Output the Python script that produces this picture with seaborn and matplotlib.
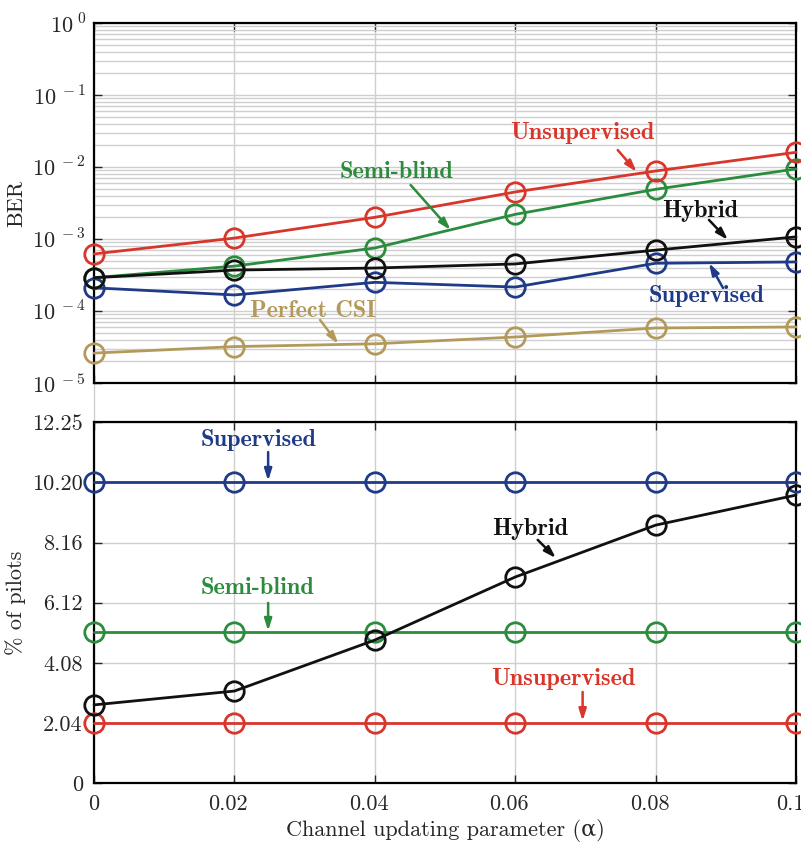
import matplotlib

matplotlib.use("Agg")
import matplotlib.pyplot as plt  # noqa: E402
import matplotlib.transforms as mtransforms  # noqa: E402
import numpy as np  # noqa: E402
import pandas as pd  # noqa: E402
import seaborn as sns  # noqa: E402
from matplotlib.ticker import FixedLocator, NullFormatter, LogLocator  # noqa: E402

# ---- data ------------------------------------------------------------------
alpha = [0, 0.02, 0.04, 0.06, 0.08, 0.1]

ber_unsupervised = [6.2e-4, 1.03e-3, 2.0e-3, 4.5e-3, 8.8e-3, 1.6e-2]
ber_semiblind = [2.9e-4, 4.2e-4, 7.5e-4, 2.2e-3, 4.9e-3, 9.4e-3]
ber_hybrid = [2.9e-4, 3.7e-4, 3.95e-4, 4.5e-4, 7.0e-4, 1.07e-3]
ber_supervised = [2.1e-4, 1.67e-4, 2.5e-4, 2.15e-4, 4.6e-4, 4.8e-4]
ber_perfect = [2.6e-5, 3.2e-5, 3.5e-5, 4.35e-5, 5.8e-5, 6.0e-5]

pil_supervised = [10.20, 10.20, 10.20, 10.20, 10.20, 10.20]
pil_semiblind = [5.12, 5.12, 5.12, 5.12, 5.12, 5.12]
pil_unsupervised = [2.04, 2.04, 2.04, 2.04, 2.04, 2.04]
pil_hybrid = [2.65, 3.12, 4.85, 6.99, 8.75, 9.77]

pil_ticks = [0, 2.04, 4.08, 6.12, 8.16, 10.20, 12.25]
pil_ticklabels = ["0", "2.04", "4.08", "6.12", "8.16", "10.20", "12.25"]
x_ticklabels = ["0", "0.02", "0.04", "0.06", "0.08", "0.1"]

RED = "#d9362b"
GREEN = "#2b8c3d"
BLUE = "#1f3a88"
BLACK = "#111111"
GOLD = "#b39a5b"

sns.set_style("ticks")
plt.rcParams["font.family"] = ["cmr10", "DejaVu Serif"]
plt.rcParams["mathtext.fontset"] = "cm"
plt.rcParams["axes.formatter.use_mathtext"] = True
plt.rcParams["axes.unicode_minus"] = False

FS = 16      # ticks and axis labels
FS_LAB = 17.5  # bold curve labels
GRID = "#cfcfcf"

fig = plt.figure(figsize=(8.01, 8.43), dpi=100)
ax1 = fig.add_axes([0.1174, 0.5457, 0.8764, 0.4270])
ax2 = fig.add_axes([0.1174, 0.0712, 0.8764, 0.4282])


def draw(ax, y, color):
    d = pd.DataFrame({"alpha": alpha, "value": y})
    sns.lineplot(
        data=d, x="alpha", y="value", ax=ax, color=color, lw=2.0,
        marker="o", markersize=14, markerfacecolor="none",
        markeredgecolor=color, markeredgewidth=2.0, clip_on=False, zorder=4,
    )


# ---- top: BER ---------------------------------------------------------------
for y, c in [(ber_perfect, GOLD), (ber_supervised, BLUE), (ber_semiblind, GREEN),
             (ber_unsupervised, RED), (ber_hybrid, BLACK)]:
    draw(ax1, y, c)

ax1.set_yscale("log")
ax1.set_ylim(1e-5, 1)
ax1.set_xlim(0, 0.1)
ax1.yaxis.set_major_locator(FixedLocator([1e-5, 1e-4, 1e-3, 1e-2, 1e-1, 1]))
ax1.yaxis.set_minor_locator(LogLocator(base=10, subs=np.arange(2, 10), numticks=20))
ax1.yaxis.set_minor_formatter(NullFormatter())
ax1.set_yticklabels([r"$10^{\;-5}$", r"$10^{\;-4}$", r"$10^{\;-3}$",
                     r"$10^{\;-2}$", r"$10^{\;-1}$", r"$10^{\;0}$"], fontsize=FS)
ax1.set_xticks(alpha)
ax1.set_xticklabels([])
ax1.set_ylabel("BER", fontsize=FS)
ax1.set_xlabel("")
ax1.grid(True, which="major", color=GRID, lw=1.0)
ax1.grid(True, which="minor", axis="y", color=GRID, lw=1.0)
ax1.tick_params(which="major", direction="in", length=6, width=1, top=True, right=True,
                pad=6)
ax1.tick_params(which="minor", length=0)
# the vertical grid lines run on into the gap between the two panels
for xv in alpha[:-1]:
    ax1.axvline(xv, ymin=-0.11, ymax=0, color=GRID, lw=1.0, clip_on=False, zorder=0)


def label(ax, text, xy, tail, head, color):
    ax.text(xy[0], xy[1], text, color=color, fontsize=FS_LAB, family="cmb10",
            ha="center", va="center", zorder=5)
    ax.annotate("", xy=head, xytext=tail, zorder=5,
                arrowprops=dict(arrowstyle="-|>,head_length=0.7,head_width=0.22",
                                color=color, lw=1.8, shrinkA=0, shrinkB=0))


label(ax1, "Unsupervised", (0.0696, 0.0297), (0.0746, 0.0172), (0.0773, 0.00853), RED)
label(ax1, "Semi-blind", (0.0431, 0.00853), (0.0451, 0.00562), (0.0508, 0.00133), GREEN)
label(ax1, "Hybrid", (0.0864, 0.00245), (0.0876, 0.00184), (0.0903, 0.00097), BLACK)
label(ax1, "Supervised", (0.0872, 1.62e-4), (0.0896, 2.09e-4), (0.0876, 4.64e-4), BLUE)
label(ax1, "Perfect CSI", (0.0312, 1.0e-4), (0.0322, 7.5e-5), (0.0348, 3.48e-5), GOLD)

# ---- bottom: % of pilots -----------------------------------------------------
for y, c in [(pil_supervised, BLUE), (pil_semiblind, GREEN),
             (pil_unsupervised, RED), (pil_hybrid, BLACK)]:
    draw(ax2, y, c)

ax2.set_ylim(0, 12.25)
ax2.set_xlim(0, 0.1)
ax2.set_yticks(pil_ticks)
ax2.set_yticklabels(pil_ticklabels, fontsize=FS)
ax2.set_xticks(alpha)
ax2.set_xticklabels(x_ticklabels, fontsize=FS)
ax2.set_ylabel("% of pilots", fontsize=FS)
ax2.set_xlabel("Channel updating parameter (α)", fontsize=FS, labelpad=4)
ax2.grid(True, color=GRID, lw=1.0)
ax2.tick_params(direction="in", length=6, width=1, top=True, right=True, pad=8)

# decimal x labels sit a few pixels left of their ticks in the original
shift = mtransforms.ScaledTranslation(-6 / 100, 0, fig.dpi_scale_trans)
for t in ax2.get_xticklabels()[1:]:
    t.set_transform(t.get_transform() + shift)

label(ax2, "Supervised", (0.0234, 11.64), (0.0248, 11.23), (0.0248, 10.25), BLUE)
label(ax2, "Semi-blind", (0.0233, 6.62), (0.0248, 6.11), (0.0248, 5.16), GREEN)
label(ax2, "Hybrid", (0.0621, 8.62), (0.0632, 8.25), (0.0658, 7.63), BLACK)
label(ax2, "Unsupervised", (0.0669, 3.53), (0.0696, 3.09), (0.0696, 2.10), RED)

for ax in (ax1, ax2):
    ax.set_axisbelow(True)
    for s in ax.spines.values():
        s.set_linewidth(1.6)
        s.set_color("black")
    ax.yaxis.set_label_coords(-0.097, 0.5)

fig.savefig("out.png", dpi=100)
